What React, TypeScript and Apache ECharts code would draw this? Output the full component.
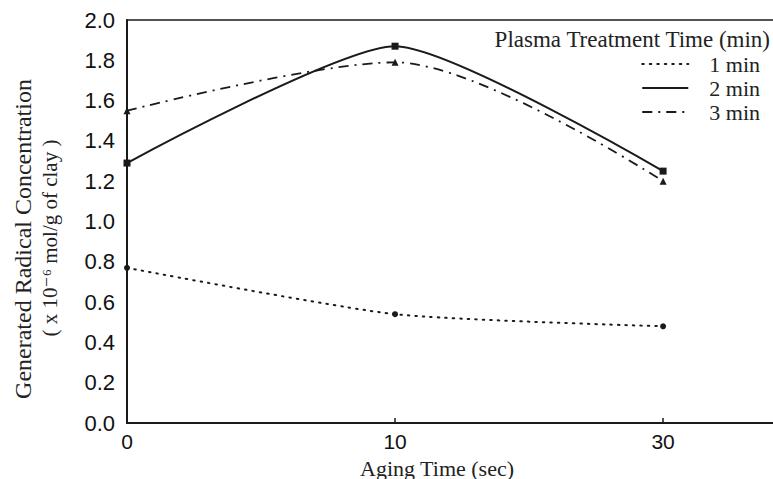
import React, { useEffect, useRef } from "react";
import * as echarts from "echarts";

const xCategories = ["0", "10", "30"];
const yTicks = [0, 0.2, 0.4, 0.6, 0.8, 1.0, 1.2, 1.4, 1.6, 1.8, 2.0];
const seriesNames = ["1 min", "2 min", "3 min"];
const oneMin = [0.77, 0.54, 0.48];
const twoMin = [1.29, 1.87, 1.25];
const threeMin = [1.55, 1.79, 1.2];

const serif = "'Liberation Serif', 'DejaVu Serif', serif";
const sans = "'Liberation Sans', Arial, sans-serif";

export default function App() {
  const ref = useRef<HTMLDivElement>(null);
  useEffect(() => {
    document.body.style.margin = "0";
    if (!ref.current) return;
    const chart = echarts.init(ref.current, undefined, { renderer: "svg" });
    const toPts = (arr: number[]) => arr.map((v, i) => [i, v]);
    const ink = "#1a1a1a";
    chart.setOption({
      animation: false,
      backgroundColor: "#ffffff",
      grid: { left: 127, right: 0, top: 20, bottom: 56 },
      xAxis: [
        {
          type: "value",
          min: 0,
          max: 2.41,
          interval: 1,
          axisLine: { show: true, lineStyle: { color: ink, width: 2 } },
          axisTick: {
            show: true,
            inside: true,
            length: 5,
            customValues: [1, 2],
            lineStyle: { color: ink, width: 1.5 },
          },
          axisLabel: {
            customValues: [0, 1, 2],
            formatter: (v: number) => xCategories[Math.round(v)] ?? "",
            fontFamily: sans,
            fontSize: 21,
            color: "#111",
            margin: 8,
          },
          splitLine: { show: false },
        },
        {
          type: "value",
          position: "top",
          min: 0,
          max: 2.41,
          axisLine: { show: true, lineStyle: { color: ink, width: 1.5 } },
          axisTick: { show: false },
          axisLabel: { show: false },
          splitLine: { show: false },
        },
      ],
      yAxis: {
        type: "value",
        min: yTicks[0],
        max: yTicks[yTicks.length - 1],
        interval: 0.2,
        axisLine: { show: true, lineStyle: { color: ink, width: 2 } },
        axisTick: { show: false },
        splitLine: { show: false },
        axisLabel: {
          formatter: (v: number) => v.toFixed(1),
          fontFamily: sans,
          fontSize: 22,
          color: "#111",
          margin: 12,
        },
      },
      legend: {
        orient: "vertical",
        right: 13,
        top: 53,
        itemWidth: 46,
        itemHeight: 14,
        itemGap: 2,
        padding: 0,
        data: seriesNames,
        itemStyle: { opacity: 0 },
        textStyle: {
          fontFamily: serif,
          fontSize: 22,
          lineHeight: 20,
          color: "#222",
          padding: [0, 0, 0, 16],
        },
      },
      graphic: [
        {
          type: "text",
          x: 770,
          y: 39,
          style: {
            text: "Plasma Treatment Time (min)",
            font: `23px ${serif}`,
            fill: "#222",
            textAlign: "right",
            textVerticalAlign: "middle",
          },
        },
        {
          type: "text",
          x: 23,
          y: 239,
          rotation: Math.PI / 2,
          style: {
            text: "Generated Radical Concentration",
            font: `24px ${serif}`,
            fill: "#222",
            textAlign: "center",
            textVerticalAlign: "middle",
          },
        },
        {
          type: "text",
          x: 50,
          y: 238,
          rotation: Math.PI / 2,
          style: {
            text: "( x 10⁻⁶ mol/g of clay )",
            font: `21px ${serif}`,
            fill: "#222",
            textAlign: "center",
            textVerticalAlign: "middle",
          },
        },
        {
          type: "text",
          x: 437,
          y: 468,
          style: {
            text: "Aging Time (sec)",
            font: `22px ${serif}`,
            fill: "#222",
            textAlign: "center",
            textVerticalAlign: "middle",
          },
        },
      ],
      series: [
        {
          name: seriesNames[0],
          type: "line",
          data: toPts(oneMin),
          smooth: 0.2,
          symbol: "circle",
          symbolSize: 6,
          itemStyle: { color: ink },
          lineStyle: { color: ink, width: 2, type: [1.5, 6], cap: "round" },
        },
        {
          name: seriesNames[1],
          type: "line",
          data: toPts(twoMin),
          smooth: 0.2,
          symbol: "rect",
          symbolSize: 7,
          itemStyle: { color: ink },
          lineStyle: { color: ink, width: 2, type: "solid" },
        },
        {
          name: seriesNames[2],
          type: "line",
          data: toPts(threeMin),
          smooth: 0.3,
          symbol: "triangle",
          symbolSize: 7,
          itemStyle: { color: ink },
          lineStyle: { color: ink, width: 1.8, type: [10, 6, 2, 6] },
        },
      ],
    });
    return () => chart.dispose();
  }, []);
  return <div ref={ref} style={{ width: 773, height: 479 }} />;
}
